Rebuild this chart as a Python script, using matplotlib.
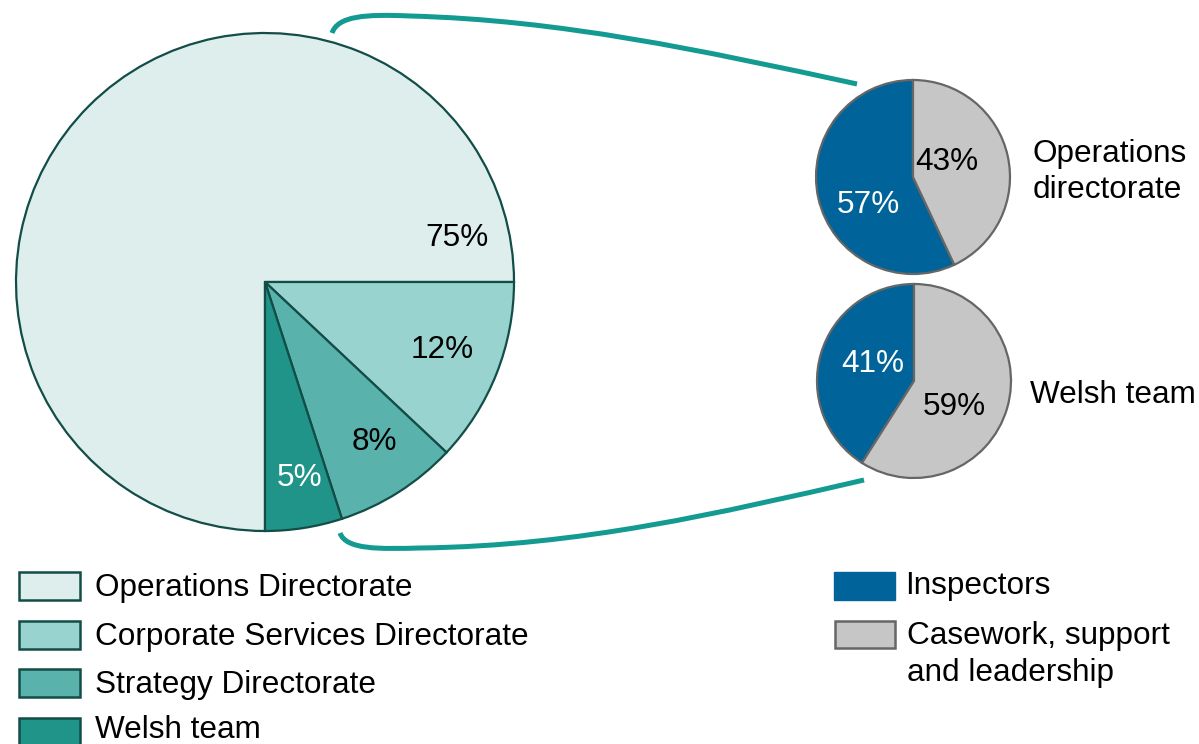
import matplotlib
matplotlib.use("Agg")
import matplotlib.pyplot as plt
from matplotlib.patches import Rectangle, PathPatch
from matplotlib.path import Path

plt.rcParams["font.family"] = ["Liberation Sans", "DejaVu Sans"]

# Staff split by directorate (%)
directorates = ["Operations Directorate", "Corporate Services Directorate",
                "Strategy Directorate", "Welsh team"]
directorate_pct = [75, 12, 8, 5]

# Role split within two groups (%)
roles = ["Inspectors", "Casework, support\nand leadership"]
ops_roles_pct = [57, 43]
welsh_roles_pct = [41, 59]
group_names = ["Operations\ndirectorate", "Welsh team"]

teal_colors = ["#ddeeed", "#99d3cf", "#59b2ac", "#209488"]
teal_edge = "#124d48"
role_colors = ["#00649a", "#c6c6c6"]
role_edge = "#666666"
link_color = "#139a91"

W, H = 1199, 744
fig = plt.figure(figsize=(W / 100, H / 100), dpi=100)
ax = fig.add_axes([0, 0, 1, 1])


def P(x, y):
    """Pixel-style coordinates (origin top-left) to axes data coordinates."""
    return (x, H - y)


FS = 22.7

# Main pie
ax.pie(directorate_pct, colors=teal_colors, startangle=270, counterclock=False,
       center=P(265, 282), radius=249,
       wedgeprops=dict(edgecolor=teal_edge, linewidth=1.6))

main_label_pos = [(457, 246), (442, 358), (374, 450), (300, 486)]
main_label_col = ["black", "black", "black", "white"]
for v, (x, y), c in zip(directorate_pct, main_label_pos, main_label_col):
    ax.text(*P(x, y), f"{v}%", ha="center", va="baseline", fontsize=FS, color=c)

# Small pies
small = [
    (ops_roles_pct, P(913, 177), [(868, 213), (947, 170)]),
    (welsh_roles_pct, P(914, 381), [(873, 372), (954, 415)]),
]
for vals, ctr, lpos in small:
    ax.pie(vals, colors=role_colors, startangle=90, counterclock=True,
           center=ctr, radius=97,
           wedgeprops=dict(edgecolor=role_edge, linewidth=1.6))
    for v, (x, y), c in zip(vals, lpos, ["white", "black"]):
        ax.text(*P(x, y), f"{v}%", ha="center", va="baseline", fontsize=FS, color=c)

ax.text(*P(1033, 162), group_names[0].split("\n")[0], ha="left", va="baseline", fontsize=FS)
ax.text(*P(1033, 198), group_names[0].split("\n")[1], ha="left", va="baseline", fontsize=FS)
ax.text(*P(1030, 403), group_names[1], ha="left", va="baseline", fontsize=FS)

# Connector curves
top_path = Path([P(332, 33), P(338, 16), P(365, 14), P(410, 16),
                 P(560, 20), P(700, 50), P(857, 84)],
                [Path.MOVETO, Path.CURVE4, Path.CURVE4, Path.CURVE4,
                 Path.CURVE4, Path.CURVE4, Path.CURVE4])
bot_path = Path([P(340, 533), P(346, 550), P(380, 549), P(420, 548),
                 P(580, 546), P(720, 513), P(864, 480)],
                [Path.MOVETO, Path.CURVE4, Path.CURVE4, Path.CURVE4,
                 Path.CURVE4, Path.CURVE4, Path.CURVE4])
for pth in (top_path, bot_path):
    ax.add_patch(PathPatch(pth, facecolor="none", edgecolor=link_color,
                           linewidth=3.6, capstyle="butt"))

# Legend: directorates
row_y = [571, 619.5, 668, 716.5]
for name, col, y in zip(directorates, teal_colors, row_y):
    x0, y0 = P(19, y + 29)
    ax.add_patch(Rectangle((x0, y0), 61, 28, facecolor=col, edgecolor=teal_edge,
                           linewidth=1.8))
    ax.text(*P(95, min(y + 25, 738)), name, ha="left", va="baseline", fontsize=FS)

# Legend: roles
x0, y0 = P(834, 600)
ax.add_patch(Rectangle((x0, y0), 61, 28, facecolor=role_colors[0],
                       edgecolor=role_colors[0], linewidth=1.0))
ax.text(*P(905, 594), roles[0], ha="left", va="baseline", fontsize=FS)
x0, y0 = P(835, 648)
ax.add_patch(Rectangle((x0, y0), 60, 27, facecolor=role_colors[1],
                       edgecolor=role_edge, linewidth=1.8))
line1, line2 = roles[1].split("\n")
ax.text(*P(907, 644), line1, ha="left", va="baseline", fontsize=FS)
ax.text(*P(907, 681), line2, ha="left", va="baseline", fontsize=FS)

ax.set_xlim(0, W)
ax.set_ylim(0, H)
ax.set_aspect("auto")
ax.axis("off")

fig.savefig("out.png", dpi=100, facecolor="white")
